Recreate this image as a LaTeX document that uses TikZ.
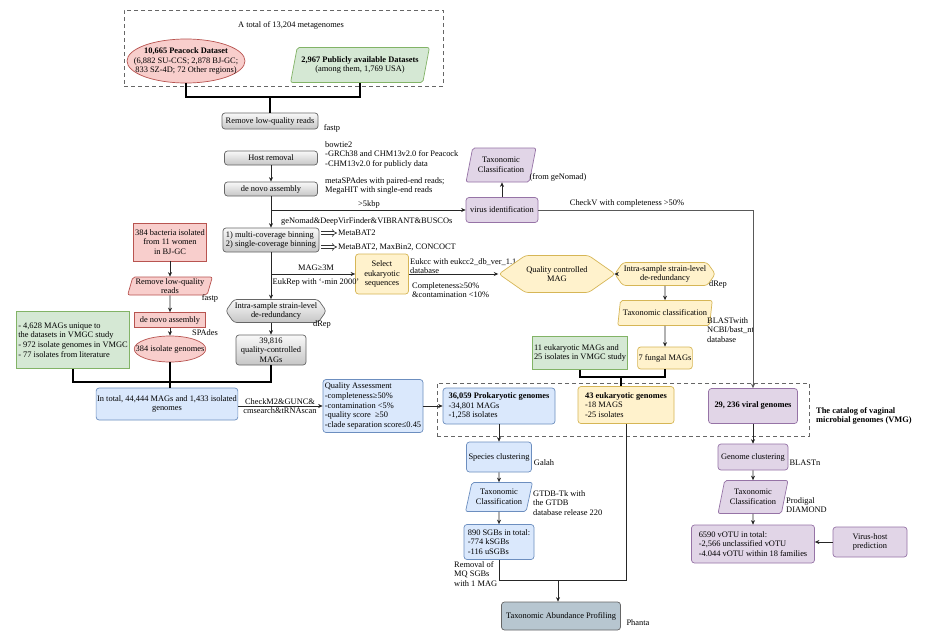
\documentclass[tikz,border=0pt]{standalone}
\usepackage{fontspec}
\setmainfont{Liberation Serif}
\usetikzlibrary{shapes.geometric,shapes.symbols,arrows.meta}
\definecolor{pinkF}{HTML}{F8CECC}\definecolor{pinkD}{HTML}{B85450}
\definecolor{greenF}{HTML}{D5E8D4}\definecolor{greenD}{HTML}{82B366}
\definecolor{yellowF}{HTML}{FFF2CC}\definecolor{yellowD}{HTML}{D6B656}
\definecolor{blueF}{HTML}{DAE8FC}\definecolor{blueD}{HTML}{6C8EBF}
\definecolor{purpleF}{HTML}{E1D5E7}\definecolor{purpleD}{HTML}{9673A6}
\definecolor{tapF}{HTML}{B7C6D0}
\tikzset{
 nbase/.style={draw, line width=0.7pt, inner sep=1pt, align=center},
 rbox/.style={nbase, rounded corners=3pt},
 graybox/.style={rbox, draw=black!60, top color=gray!5, bottom color=gray!45},
 pinkbox/.style={nbase, draw=pinkD, fill=pinkF},
 greenbox/.style={nbase, draw=greenD, fill=greenF},
 yellowbox/.style={rbox, draw=yellowD, fill=yellowF},
 bluebox/.style={rbox, draw=blueD, fill=blueF},
 purplebox/.style={rbox, draw=purpleD, fill=purpleF},
 para/.style={trapezium, trapezium left angle=72, trapezium right angle=108, trapezium stretches=true, rounded corners=2pt},
 hexa/.style={signal, signal to=west and east, signal pointer angle=110},
 lbl/.style={inner sep=0pt, align=left},
 arr/.style={draw=black!85, line width=0.7pt, -{Stealth[length=4.5pt,width=4pt]}},
 link/.style={draw=black!85, line width=0.7pt},
 tline/.style={draw=black, line width=1.5pt},
 dbox/.style={draw=black!60, line width=0.8pt, dash pattern=on 4pt off 3pt, inner sep=0pt},
 dbl/.style={draw=black!80, double, double distance=2pt, line width=0.6pt, -{Implies[length=4pt]}},
}
\begin{document}
\begin{tikzpicture}[x=1pt,y=-1pt, font=\fontsize{8.4}{9.7}\selectfont]
\useasboundingbox (0,0) rectangle (945,640);
\fill[white] (0,0) rectangle (945,640);

% top block
\node[dbox, minimum width=319pt, minimum height=76pt] (topbox) at (283.5,48) {};
\node[lbl] (toptitle) at (291,25) {A total of 13,204 metagenomes};
\node[nbase, ellipse, draw=pinkD, fill=pinkF, minimum width=118pt, minimum height=44pt, inner xsep=-14pt, inner ysep=0pt] (peacock) at (186,61) {\textbf{10,665 Peacock Dataset}\\(6,882 SU-CCS; 2,878 BJ-GC;\\833 SZ-4D; 72 Other regions)};
\node[greenbox, para, minimum width=139pt, minimum height=35pt] (public) at (360,65) {\textbf{2,967 Publicly available Datasets}\\(among them, 1,769 USA)};

\coordinate (j0) at (270,97);
\node[graybox, minimum width=96pt, minimum height=16pt] (rmlow) at (270,121) {Remove low-quality reads};
\draw[tline] (peacock.south) |- (public.south |- j0) -- (public.south);
\draw[tline] (j0) -- (rmlow.north);
\node[lbl] (fastp1) at (332,128) {fastp};

\node[graybox, minimum width=93pt, minimum height=14pt] (host) at (271,158) {Host removal};
\node[lbl, anchor=north west] (bowtie) at (325,141) {bowtie2\\-GRCh38 and CHM13v2.0 for Peacock\\-CHM13v2.0 for publicly data};
\node[graybox, minimum width=93pt, minimum height=14pt] (denovo) at (271,189) {de novo assembly};
\draw[arr] (host) -- (denovo);
\node[lbl, anchor=west] (metasp) at (325,186) {metaSPAdes with paired-end reads;\\ MegaHIT with single-end reads};

% virus
\node[purplebox, minimum width=72pt, minimum height=25pt] (virus) at (502,210) {virus identification};
\node[purplebox, para, minimum width=70pt, minimum height=34pt] (taxvir) at (501,165) {Taxonomic\\Classification};
\node[lbl] (fromgn) at (558,177) {(from geNomad)};
\draw[arr] (virus.north) -- (virus.north |- taxvir.south);

% binning
\node[graybox, align=left, minimum width=96pt, minimum height=24pt] (binning) at (271,240) {1) multi-coverage binning\\2) single-coverage binning};
\draw[arr] (denovo.south) -- (binning.north);
\coordinate (jv) at (denovo.south |- virus.west);
\draw[arr] (jv) -- (virus.west);
\node[lbl] (kbp) at (369,204) {>5kbp};
\node[lbl, anchor=west] (genomad) at (281,221) {geNomad\&DeepVirFinder\&VIBRANT\&BUSCOs};
\node[lbl] (checkv) at (627,203) {CheckV with completeness >50\%};

\node[lbl, anchor=west] (mb1) at (338,233) {MetaBAT2};
\node[lbl, anchor=west] (mb2) at (338,247) {MetaBAT2, MaxBin2, CONCOCT};
\draw[dbl] ([xshift=2pt]binning.east |- mb1.west) -- ([xshift=-1pt]mb1.west);
\draw[dbl] ([xshift=2pt]binning.east |- mb2.west) -- ([xshift=-1pt]mb2.west);

% eukaryotic branch
\node[yellowbox, minimum width=53pt, minimum height=40pt] (seleuk) at (382,274) {Select\\eukaryotic\\sequences};
\coordinate (jb) at (binning.south |- seleuk.west);
\draw[arr] (jb) -- (seleuk.west);
\node[lbl] (mag3m) at (316,268) {MAG≥3M};
\node[lbl] (eukrep) at (316,282) {EukRep with ‘-min 2000’};
\node[lbl, anchor=west] (eukcc) at (410,266) {Eukcc with  eukcc2\_db\_ver\_1.1\\ database};
\node[lbl, anchor=west] (compl) at (412,290) {Completeness≥50\%\\\&contamination <10\%};
\node[yellowbox, hexa, signal pointer angle=70, minimum width=79pt, minimum height=37pt] (qcmag) at (557,274) {Quality controlled\\MAG};
\draw[arr] (seleuk.east) -- (qcmag.west);
\node[yellowbox, hexa, minimum width=93pt, minimum height=23pt] (intra2) at (665,274) {Intra-sample strain-level\\de-redundancy};
\node[lbl] (drep2) at (718,284) {dRep};
\draw[arr] (qcmag.east) -- (intra2.west);
\node[yellowbox, para, minimum width=95pt, minimum height=25pt] (taxcls2) at (665,313) {Taxonomic classification};
\draw[arr] (intra2.south) -- (taxcls2.north);
\node[lbl, anchor=north west] (blast) at (707,317) {BLASTwith\\NCBI/bast\_nt\\database};
\node[yellowbox, minimum width=54pt, minimum height=22pt] (fungal) at (665,358) {7 fungal MAGs};
\draw[arr] (taxcls2.south) -- (fungal.north);
\node[greenbox, align=left, minimum width=95pt, minimum height=33pt] (green11) at (580,353) {11 eukaryotic MAGs and\\25 isolates in VMGC study};

% catalog
\node[dbox, minimum width=372pt, minimum height=53pt] (catalog) at (623,409.5) {};
\node[lbl, anchor=west] (catlbl) at (816,416) {\textbf{The catalog of vaginal}\\\textbf{microbial genomes (VMG)}};
\node[yellowbox, align=left, minimum width=96pt, minimum height=37pt] (euk43) at (626,405) {\textbf{43 eukaryotic genomes}\\-18 MAGS\\-25 isolates};
\coordinate (je) at (621,377);
\draw[tline] (green11.south) |- (fungal.south |- je) -- (fungal.south);
\draw[tline] (je) -- (je |- euk43.north);
\node[bluebox, align=left, minimum width=112pt, minimum height=36pt] (prok) at (499,406) {\textbf{36,059 Prokaryotic genomes}\\-34,801 MAGs\\-1,258 isolates};
\node[purplebox, minimum width=89pt, minimum height=35pt] (viral) at (753,406) {\textbf{29, 236 viral genomes}};
\draw[arr, draw=black!65, line width=1pt] (virus.east) -| (viral.north);

% left side
\node[pinkbox, minimum width=73pt, minimum height=38pt] (bact) at (170,242) {384 bacteria isolated\\from 11 women\\in BJ-GC};
\node[pinkbox, para, minimum width=85pt, minimum height=18pt, inner sep=0pt, font=\fontsize{8.4}{9}\selectfont] (rmpink) at (170,286) {Remove low-quality\\reads};
\node[lbl] (fastp2) at (210,298) {fastp};
\node[pinkbox, minimum width=71pt, minimum height=15pt] (denovo2) at (170,320) {de novo assembly};
\node[lbl] (spades) at (205,333) {SPAdes};
\node[nbase, ellipse, draw=pinkD, fill=pinkF, minimum width=70pt, minimum height=26pt, inner xsep=-9pt, inner ysep=0pt] (iso) at (170,349) {384 isolate genomes};
\draw[arr] (bact) -- (rmpink);
\draw[arr] (rmpink) -- (denovo2);
\draw[arr] (denovo2) -- (iso);
\node[greenbox, align=left, minimum width=113pt, minimum height=57pt] (gleft) at (73,340) {- 4,628 MAGs unique to\\the datasets in VMGC study\\- 972 isolate genomes in VMGC\\- 77 isolates from literature};

\node[graybox, hexa, minimum width=86pt, minimum height=23pt] (drep1) at (276,311) {Intra-sample strain-level\\de-redundancy};
\draw[arr] (binning.south) -- (binning.south |- drep1.north);
\node[lbl] (drep1lbl) at (322,324) {dRep};
\node[graybox, minimum width=70pt, minimum height=30pt] (mags39) at (271,350) {39,816\\quality-controlled\\MAGs};
\draw[arr] (mags39.north |- drep1.south) -- (mags39.north);

\node[bluebox, minimum width=141pt, minimum height=32pt] (intotal) at (167,404) {In total, 44,444 MAGs and 1,433 isolated\\genomes};
\coordinate (jl) at (167,382);
\draw[tline] (gleft.south) |- (mags39.south |- jl) -- (mags39.south);
\draw[tline] (iso.south) -- (iso.south |- intotal.north);

\node[bluebox, align=left, minimum width=100pt, minimum height=53pt] (qa) at (373,406) {Quality Assessment\\-completeness≥50\%\\-contamination <5\%\\-quality score \ ≥50\\-clade separation score≤0.45};
\draw[arr] (intotal.east |- qa.west) -- (qa.west);
\node[lbl, align=center] (checkm) at (280,406) {CheckM2\&GUNC\&\\cmsearch\&tRNAscan};
\draw[arr] (qa.east) -- (prok.west);

% prokaryotic chain
\node[bluebox, minimum width=65pt, minimum height=30pt] (species) at (499,457) {Species clustering};
\node[lbl] (galah) at (544,463) {Galah};
\node[bluebox, para, minimum width=67pt, minimum height=29pt] (taxbact) at (499,497) {Taxonomic\\Classification};
\node[lbl, anchor=west] (gtdb) at (533,503) {GTDB-Tk with\\the GTDB\\database release 220};
\node[bluebox, align=left, minimum width=70pt, minimum height=35pt] (sgb) at (499,542) {890 SGBs in total:\\-774 kSGBs\\-116 uSGBs};
\node[lbl, anchor=north west] (removal) at (454,561) {Removal of\\MQ SGBs\\with 1 MAG};
\draw[arr] (prok.south) -- (species.north);
\draw[arr] (species.south) -- (taxbact.north);
\draw[arr] (taxbact.south) -- (sgb.north);
\coordinate (jb2) at (558,580);
\draw[link] (sgb.south) |- (euk43.south |- jb2) -- (euk43.south);
\node[nbase, rounded corners=3pt, draw=black!60, fill=tapF, minimum width=119pt, minimum height=28pt] (tap) at (561,616) {Taxonomic Abundance Profiling};
\draw[arr] (jb2) -- (jb2 |- tap.north);
\node[lbl] (phanta) at (638,623) {Phanta};

% viral chain
\node[purplebox, minimum width=70pt, minimum height=26pt] (genclust) at (753,457) {Genome clustering};
\node[lbl] (blastn) at (805,463) {BLASTn};
\node[purplebox, para, minimum width=70pt, minimum height=33pt] (taxvir2) at (753,497) {Taxonomic\\Classification};
\node[lbl, anchor=west] (prodigal) at (786,505) {Prodigal\\DIAMOND};
\node[purplebox, align=left, minimum width=123pt, minimum height=38pt] (votu) at (753,544) {6590 vOTU in total:\\-2,566 unclassified vOTU\\-4.044 vOTU within 18 families};
\node[purplebox, minimum width=74pt, minimum height=30pt] (vhost) at (870,542) {Virus-host\\prediction};
\draw[arr] (viral.south) -- (genclust.north);
\draw[arr] (genclust.south) -- (taxvir2.north);
\draw[arr] (taxvir2.south) -- (votu.north);
\draw[arr] (vhost.west) -- (votu.east |- vhost.west);
\end{tikzpicture}
\end{document}
